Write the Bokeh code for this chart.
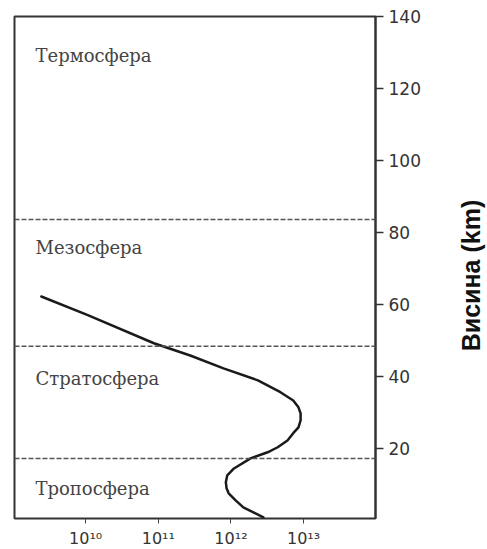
import math
from bokeh.plotting import figure
from bokeh.layouts import row
from bokeh.models import Range1d, FixedTicker, Span, Label
from bokeh.embed import file_html
from bokeh.resources import INLINE

# ---- data ----
altitude_km = [62.2, 57.0, 49.2, 45.8, 42.2, 38.9, 35.6, 33.3, 31.4, 29.7,
               27.8, 25.8, 24.2, 22.2, 20.3, 18.9, 17.2, 14.4, 12.5, 10.6,
               8.9, 7.5, 5.6, 3.6, 2.2, 0.8]
concentration = [2.45e9, 1.07e10, 8.7e10, 2.75e11, 7.9e11, 2.35e12, 4.8e12,
                 7.2e12, 8.5e12, 9.1e12, 9.1e12, 8.5e12, 7.2e12, 6.0e12,
                 4.4e12, 3.2e12, 1.86e12, 1.1e12, 8.9e11, 8.5e11, 8.7e11,
                 9.3e11, 1.15e12, 1.48e12, 2.04e12, 2.8e12]

x_tick_values = [1e10, 1e11, 1e12, 1e13]
x_tick_labels = ["10¹⁰", "10¹¹", "10¹²", "10¹³"]
y_tick_values = [20, 40, 60, 80, 100, 120, 140]

layer_boundaries_km = [17.2, 48.4, 83.6]
layer_names = ["Тропосфера", "Стратосфера", "Мезосфера", "Термосфера"]
layer_label_alt_km = [8.9, 39.4, 75.8, 129.2]
axis_title = "Висина (km)"

# ---- main figure ----
p = figure(frame_width=361, frame_height=502,
           x_axis_type="log",
           x_range=Range1d(10**9.02, 10**13.99),
           y_range=Range1d(0.5, 140),
           y_axis_location="right",
           output_backend="svg", toolbar_location=None,
           min_border_left=14, min_border_top=16, min_border_right=55,
           min_border_bottom=31)
p.background_fill_color = "white"
p.border_fill_color = "white"
p.xgrid.visible = False
p.ygrid.visible = False
p.outline_line_color = "#333333"
p.outline_line_width = 2

# x axis
xa = p.xaxis[0]
xa.ticker = FixedTicker(ticks=x_tick_values)
xa.major_label_overrides = dict(zip(x_tick_values, x_tick_labels))
xa.axis_line_color = None
xa.major_tick_out = 5
xa.major_tick_in = 0
xa.major_tick_line_color = "#444444"
xa.minor_tick_line_color = None
xa.major_label_standoff = 5
xa.major_label_text_font = "DejaVu Sans"
xa.major_label_text_font_size = "16px"
xa.major_label_text_color = "#333333"

# y axis (right)
ya = p.yaxis[0]
ya.ticker = FixedTicker(ticks=y_tick_values)
ya.axis_line_color = "#333333"
ya.axis_line_width = 2
ya.major_tick_out = 8
ya.major_tick_in = 0
ya.major_tick_line_color = "#333333"
ya.major_tick_line_width = 1.5
ya.minor_tick_line_color = None
ya.major_label_standoff = 5
ya.major_label_text_font = "DejaVu Sans"
ya.major_label_text_font_size = "17px"
ya.major_label_text_color = "#333333"

# layer boundaries
for b in layer_boundaries_km:
    p.add_layout(Span(location=b, dimension="width", line_color="#555555",
                      line_width=1.5, line_dash="5 2"))

# curve
p.line(concentration, altitude_km, line_color="#1a1a1a", line_width=2.5,
       line_join="round", line_cap="round")

# layer names
for name, alt in zip(layer_names, layer_label_alt_km):
    p.add_layout(Label(x=21, x_units="screen", y=alt, y_units="data",
                       text=name, text_font="DejaVu Serif",
                       text_font_size="18px", text_color="#444444",
                       text_baseline="middle", text_align="left"))

# ---- narrow panel holding the vertical axis title ----
t = figure(width=57, height=549, x_range=Range1d(0, 1), y_range=Range1d(0, 1),
           x_axis_location=None, y_axis_location=None,
           output_backend="svg", toolbar_location=None, min_border=0)
t.xgrid.visible = False
t.ygrid.visible = False
t.outline_line_color = None
t.background_fill_color = "white"
t.border_fill_color = "white"
t.add_layout(Label(x=40, x_units="screen", y=242, y_units="screen",
                   text=axis_title, angle=math.pi / 2,
                   text_font="Liberation Sans", text_font_style="bold",
                   text_font_size="25px", text_color="#111111",
                   text_align="center", text_baseline="middle"))

layout = row(p, t)
open("out.html", "w").write(file_html(layout, INLINE))
